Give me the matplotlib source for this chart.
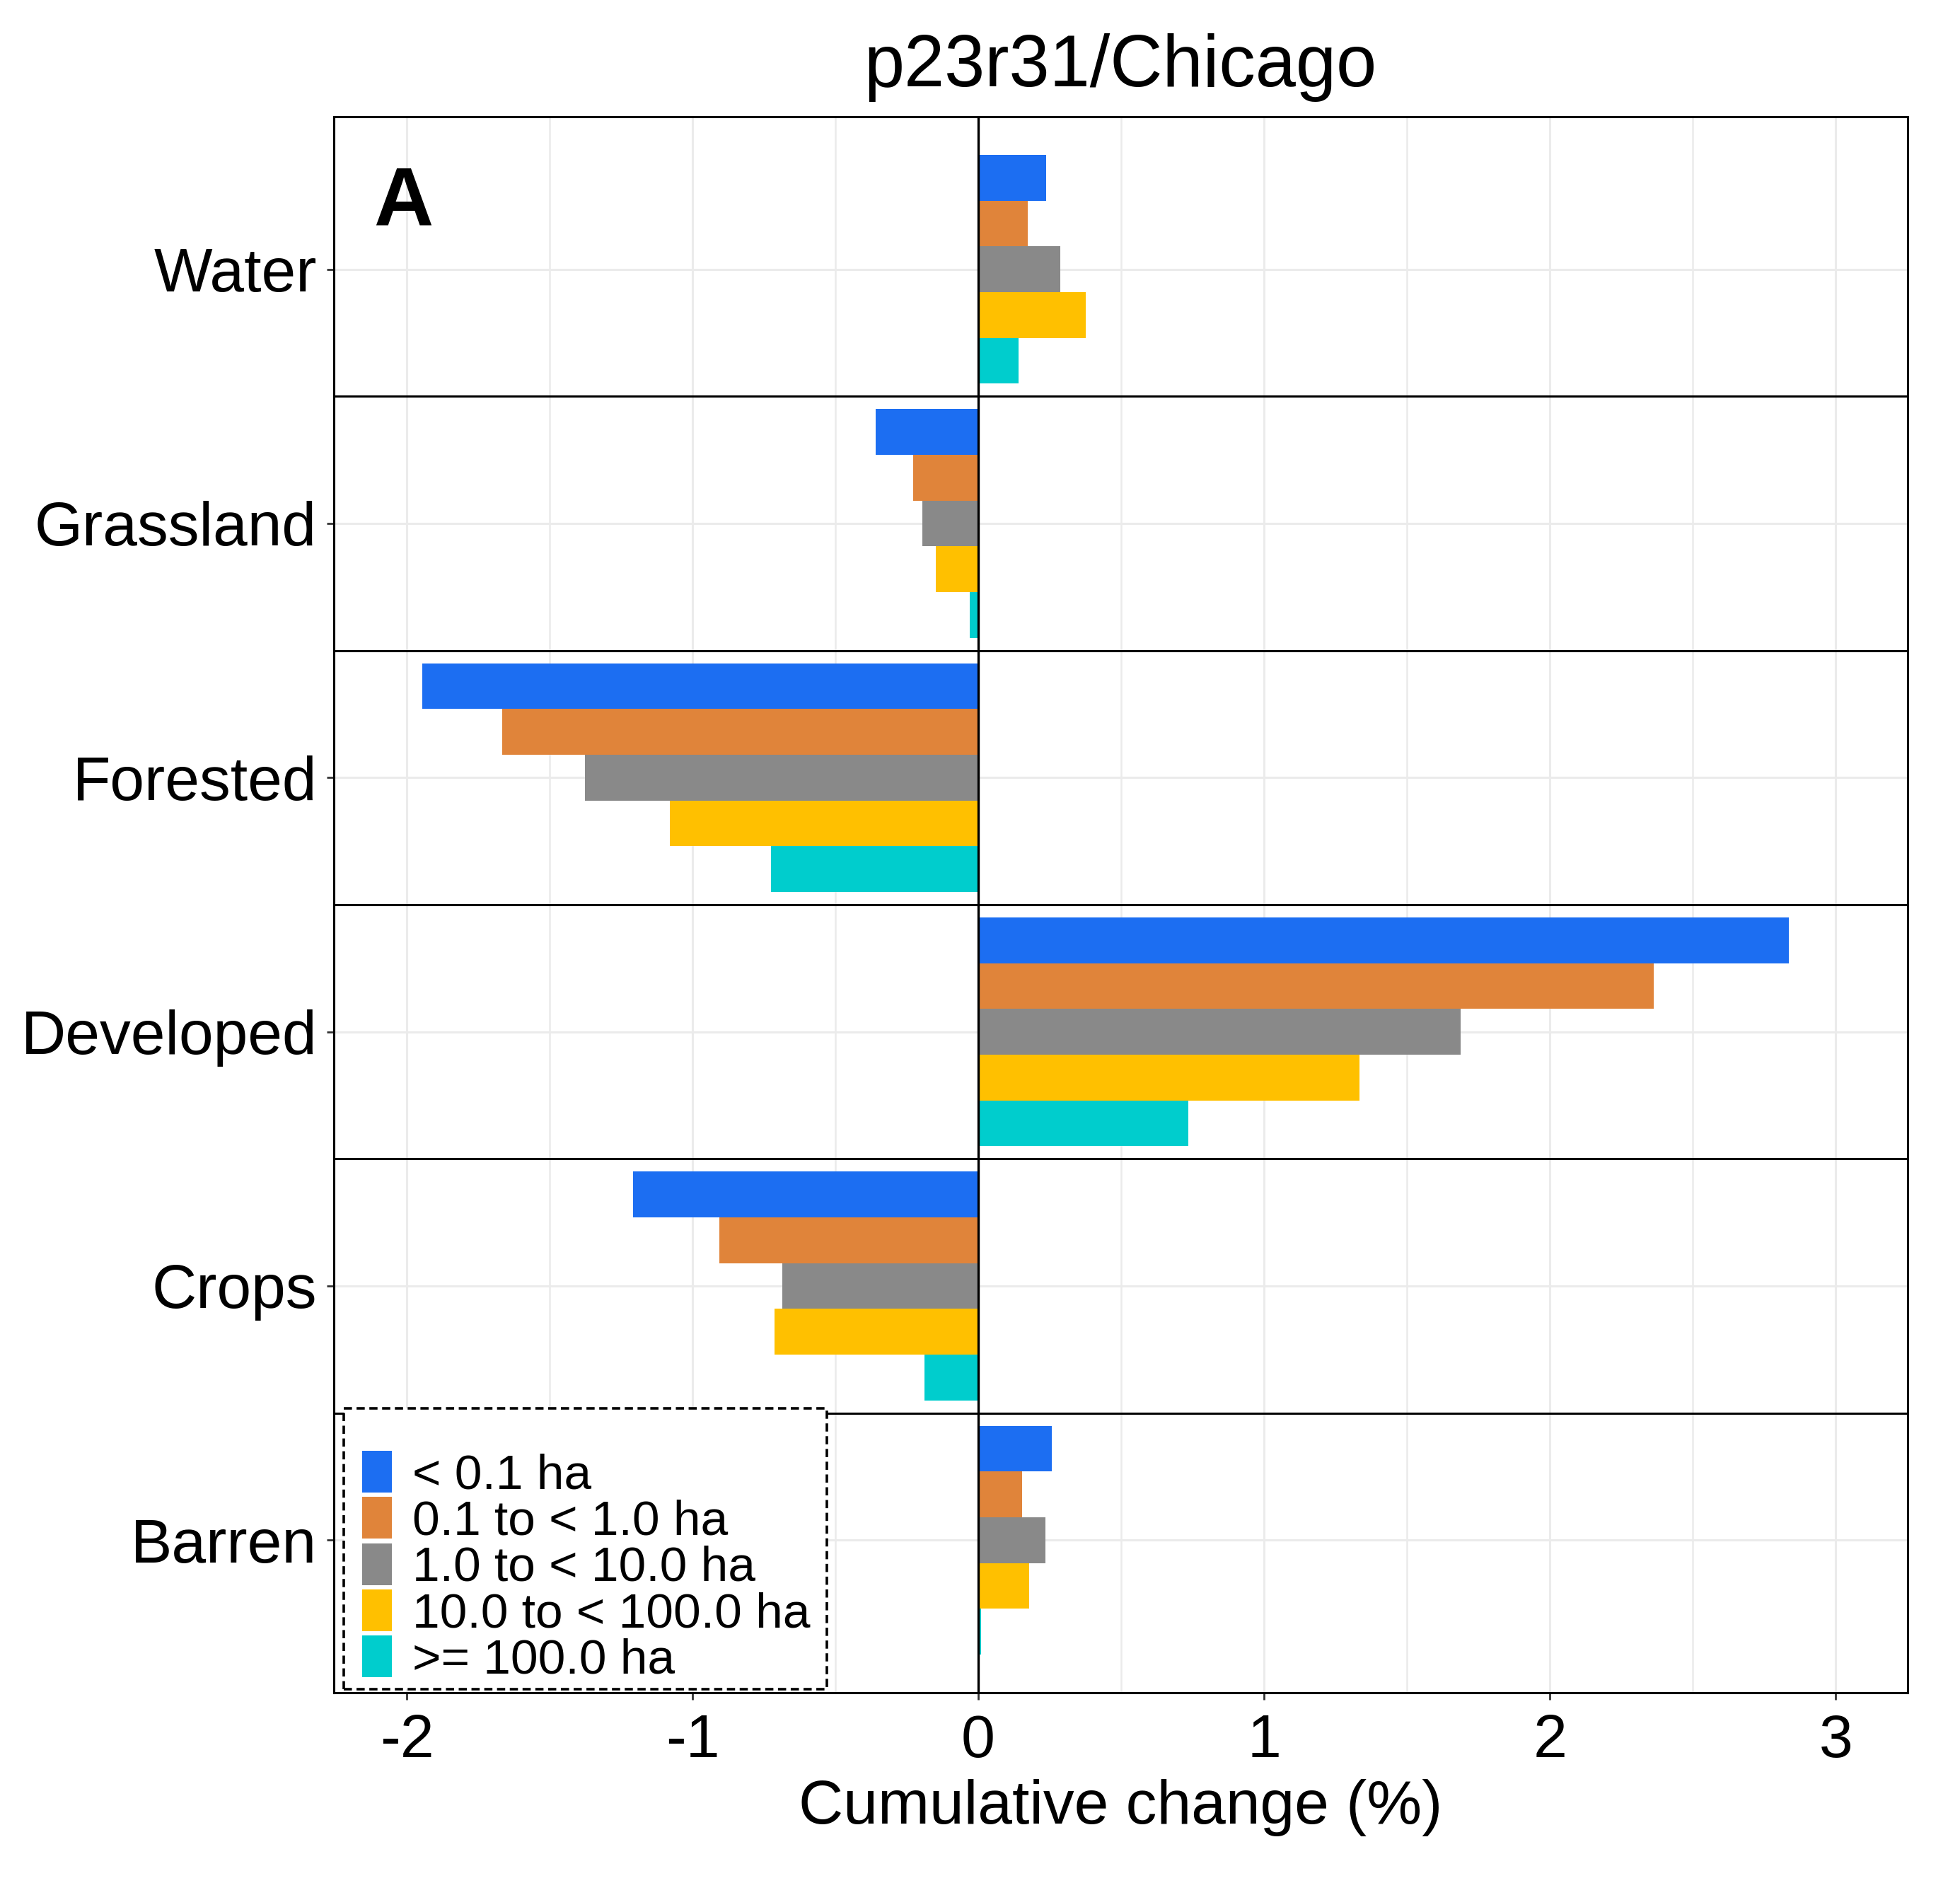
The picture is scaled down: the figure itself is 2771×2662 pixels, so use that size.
import numpy as np
import matplotlib
matplotlib.use('Agg')
import matplotlib.pyplot as plt
from matplotlib.patches import Rectangle

plt.rcParams['font.family'] = ['Liberation Sans', 'DejaVu Sans']
plt.rcParams['axes.unicode_minus'] = False

# ── data ──────────────────────────────────────────────────────
categories = ['Water', 'Grassland', 'Forested', 'Developed', 'Crops', 'Barren']
size_classes = ['< 0.1 ha', '0.1 to < 1.0 ha', '1.0 to < 10.0 ha',
                '10.0 to < 100.0 ha', '>= 100.0 ha']
lt_0_1 = [0.237, -0.359, -1.946, 2.835, -1.207, 0.258]
from_0_1 = [0.174, -0.227, -1.666, 2.363, -0.905, 0.153]
from_1 = [0.287, -0.197, -1.377, 1.687, -0.686, 0.236]
from_10 = [0.375, -0.149, -1.080, 1.335, -0.713, 0.179]
ge_100 = [0.142, -0.031, -0.726, 0.734, -0.188, 0.009]
series = [lt_0_1, from_0_1, from_1, from_10, ge_100]

colors = ['#1C6EF2', '#E0843A', '#898989', '#FFC000', '#00CDCD']
x_ticks = [-2, -1, 0, 1, 2, 3]

# ── figure ────────────────────────────────────────────────────
fig = plt.figure(figsize=(27.71, 26.62), dpi=100)
ax = fig.add_axes([0.1702, 0.1011, 0.8031, 0.8369])

n_cat = len(categories)
ypos = np.arange(n_cat, 0, -1)          # Water on top
dodge = 0.9
bar_h = dodge / len(series)

for i, (vals, col, lab) in enumerate(zip(series, colors, size_classes)):
    offs = dodge / 2 - bar_h / 2 - i * bar_h
    ax.barh(ypos + offs, vals, height=bar_h, color=col, label=lab,
            linewidth=0, zorder=3)

# panel separators and zero line
for b in np.arange(1.5, n_cat, 1.0):
    ax.axhline(b, color='black', linewidth=2.2, zorder=4)
ax.axvline(0, color='black', linewidth=2.4, zorder=4)

ax.set_xlim(-2.256, 3.252)
ax.set_ylim(0.4, n_cat + 0.6)
ax.set_xticks(x_ticks)
ax.set_xticks(np.arange(-1.5, 3.5, 1.0), minor=True)
ax.set_yticks(ypos)
ax.set_yticklabels(categories)

ax.grid(which='major', color='#EBEBEB', linewidth=2.2, zorder=0)
ax.grid(which='minor', axis='x', color='#EBEBEB', linewidth=1.8, zorder=0)
ax.set_axisbelow(True)

ax.tick_params(axis='both', which='major', length=7, width=2.0,
               color='#333333', labelsize=63, pad=10, labelcolor='black')
ax.tick_params(axis='x', which='major', pad=14, labelsize=62)
ax.tick_params(which='minor', length=0)
for sp in ax.spines.values():
    sp.set_linewidth(2.2)
    sp.set_color('black')
    sp.set_zorder(5)

ax.set_title('p23r31/Chicago', fontsize=74, pad=31)
ax.set_xlabel('Cumulative change (%)', fontsize=63, labelpad=9)

ax.text(0.0253, 0.9313, 'A', transform=ax.transAxes, fontsize=84,
        fontweight='bold', ha='left', va='baseline', zorder=6)

# legend with dashed box
leg = ax.legend(loc='upper left', bbox_to_anchor=(0.0181, 0.1535),
                frameon=False, fontsize=50, borderpad=0, borderaxespad=0,
                handlelength=0.6, handleheight=0.93, labelspacing=-0.03,
                handletextpad=0.43)
leg.set_zorder(7)
ax.add_patch(Rectangle((0.0064, 0.0022), 0.3069, 0.178,
                       transform=ax.transAxes, fill=True, facecolor='white',
                       edgecolor='black', linewidth=2.6,
                       linestyle=(0, (3.2, 1.8)), zorder=6, clip_on=False))

fig.savefig('out.png', dpi=100)
